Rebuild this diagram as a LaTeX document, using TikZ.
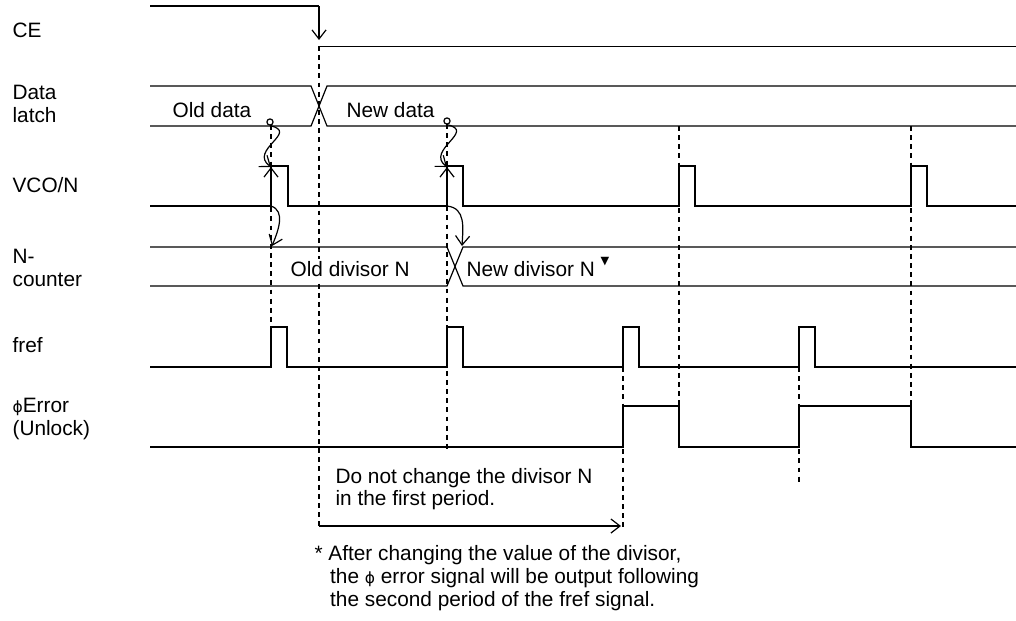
\documentclass[tikz,border=0pt]{standalone}
\usepackage{fontspec}
\setmainfont{Liberation Sans}
\newfontfamily\symfont{DejaVu Sans}
\usetikzlibrary{arrows.meta}

\newcommand{\phisym}{{\symfont\fontsize{11}{11}\selectfont ϕ}}

\begin{document}
\begin{tikzpicture}[x=0.025cm, y=-0.025cm, line width=0.85pt,
	wave/.style={line join=miter},
	guide/.style={dash pattern=on 3.5pt off 3pt, line width=0.75pt},
	lbl/.style={anchor=west, inner sep=0pt, align=left, font=\fontsize{14.8}{16.2}\selectfont},
	tip/.style={-{Straight Barb[length=6.5pt,width=10pt]}},
	dot/.style={circle, draw, fill=white, inner sep=0pt, minimum size=4.4pt}]

	\useasboundingbox (0,0) rectangle (1016,620);

	% row names
	\node[lbl] (ce) at (12,30) {CE};
	\node[lbl] (latch) at (12,104) {Data\\latch};
	\node[lbl] (vco) at (12,185) {VCO/N};
	\node[lbl] (ncnt) at (12,268) {N-\\counter};
	\node[lbl] (fref) at (12,345) {fref};
	\node[lbl] (err) at (12,419) {\phisym Error\\(Unlock)};

	% guide lines
	\draw[guide] (319,46) -- (319,526);
	\draw[guide] (271,125) -- (271,327);
	\draw[guide] (447,124) -- (447,452);
	\draw[guide] (679,126) -- (679,406);
	\draw[guide] (911,126) -- (911,406);
	\draw[guide] (623,367) -- (623,530);
	\draw[guide] (799,367) -- (799,482);

	% waveforms
	\draw[wave] (150,6) -- (319,6);
	\draw[wave] (320,46.5) -- (1016,46.5);
	\draw[wave] (150,86) -- (311,86) -- (327,126) -- (1016,126);
	\draw[wave] (150,126) -- (311,126) -- (327,86) -- (1016,86);
	\draw[wave] (150,206) -- (271,206) -- (271,166) -- (288,166) -- (288,206)
		-- (447,206) -- (447,166) -- (463,166) -- (463,206)
		-- (679,206) -- (679,166) -- (695,166) -- (695,206)
		-- (911,206) -- (911,166) -- (927,166) -- (927,206) -- (1016,206);
	\draw[wave] (150,247) -- (447,247) -- (463,286) -- (1016,286);
	\draw[wave] (150,286) -- (447,286) -- (463,247) -- (1016,247);
	\draw[wave] (150,367) -- (271,367) -- (271,327) -- (287,327) -- (287,367)
		-- (447,367) -- (447,327) -- (463,327) -- (463,367)
		-- (623,367) -- (623,327) -- (639,327) -- (639,367)
		-- (799,367) -- (799,327) -- (815,327) -- (815,367) -- (1016,367);
	\draw[wave] (150,447) -- (623,447) -- (623,406) -- (679,406) -- (679,447)
		-- (799,447) -- (799,406) -- (911,406) -- (911,447) -- (1016,447);

	% points the arrows join
	\coordinate (cehi) at (319,6);
	\coordinate (celo) at (319,40);
	\coordinate (v1) at (271,206);
	\coordinate (v1t) at (271,167);
	\coordinate (n1) at (272,246);
	\coordinate (v2) at (447,206);
	\coordinate (v2t) at (447,167);
	\coordinate (n2) at (462,246);
	\coordinate (p0) at (319,526);
	\coordinate (p1) at (621,526);
	\node[dot] (d1) at (270,122) {};
	\node[dot] (d2) at (447,121) {};

	\path[tip] (cehi) edge (celo);
	\path[tip] (v1) edge (v1t);
	\path[tip] (v2) edge (v2t);
	\draw[tip] (d1.south) .. controls (300,132) and (248,150) .. (v1t);
	\draw[tip] (d2.south) .. controls (477,131) and (425,150) .. (v2t);
	\draw[tip] (v1) .. controls (286,211) and (278,231) .. (n1);
	\draw[tip] (v2) .. controls (466,208) and (463,228) .. (n2);
	\draw[tip] (p0) -- (p1);

	% texts
	\node[lbl] (olddata) at (172,110) {Old data};
	\node[lbl] (newdata) at (346,110) {New data};
	\node[lbl, fill=white, inner ysep=2pt] (olddiv) at (290,269) {Old divisor N};
	\node[lbl] (newdiv) at (466,269) {New divisor N};
	\node[anchor=west, inner sep=0pt, font=\symfont\fontsize{8}{8}\selectfont] (mark) at (600,262) {▼};
	\node[lbl] (keep) at (335,489) {Do not change the divisor N\\in the first period.};
	\node[lbl] (note) at (314,578) {* After changing the value of the divisor,\\\hspace*{0.75em}the \phisym{} error signal will be output following\\\hspace*{0.75em}the second period of the fref signal.};
\end{tikzpicture}
\end{document}
